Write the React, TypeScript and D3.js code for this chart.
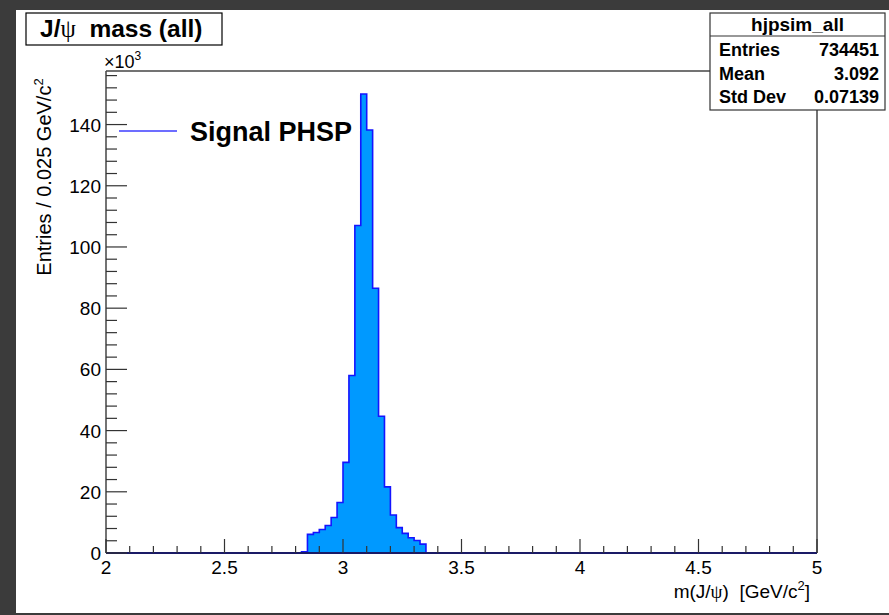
import React from "react";
import * as d3 from "d3";

const binWidth = 0.025;
const xMin = 2;
const xMax = 5;
const binLow = [2.825, 2.85, 2.875, 2.9, 2.925, 2.95, 2.975, 3.0, 3.025, 3.05, 3.075, 3.1, 3.125, 3.15, 3.175, 3.2, 3.225, 3.25, 3.275, 3.3, 3.325];
const binCounts = [400, 6100, 6700, 7700, 9000, 11600, 16500, 29600, 58000, 107000, 150000, 138200, 86500, 44700, 21600, 12400, 8300, 6400, 5000, 4100, 2900];
const xMajorTicks = [2, 2.5, 3, 3.5, 4, 4.5, 5];
const xTickLabels = ["2", "2.5", "3", "3.5", "4", "4.5", "5"];
const yMajorTicks = [0, 20000, 40000, 60000, 80000, 100000, 120000, 140000];
const yTickLabels = ["0", "20", "40", "60", "80", "100", "120", "140"];
const statsRows = [
  ["Entries", "734451"],
  ["Mean", "3.092"],
  ["Std Dev", "0.07139"],
];

export default function App() {
  const W = 889, H = 615;
  const left = 106, right = 817, top = 71, bottom = 553;
  const x = d3.scaleLinear().domain([xMin, xMax]).range([left, right]);
  const y = d3.scaleLinear().domain([0, 157500]).range([bottom, top]);

  // histogram step outline (envelope only)
  const pts: [number, number][] = [];
  pts.push([xMin, 0]);
  pts.push([binLow[0], 0]);
  binLow.forEach((b, i) => {
    pts.push([b, binCounts[i]]);
    pts.push([b + binWidth, binCounts[i]]);
  });
  pts.push([binLow[binLow.length - 1] + binWidth, 0]);
  pts.push([xMax, 0]);
  const line = d3.line<[number, number]>().x(d => x(d[0])).y(d => y(d[1]));
  const pathD = line(pts) || "";

  const xMinor = d3.range(0, 31).map(i => xMin + i * 0.1).filter(v => !xMajorTicks.some(m => Math.abs(m - v) < 1e-6));
  const yMinor = d3.range(0, 40).map(i => i * 4000).filter(v => v <= 157500 && v % 20000 !== 0);

  const font = "'Liberation Sans', Arial, Helvetica, sans-serif";
  const serif = "'Liberation Serif', 'DejaVu Serif', serif";

  return (
    <svg width={W} height={H} style={{ position: "absolute", left: 0, top: 0 }} fontFamily={font}>
      <rect x={0} y={0} width={W} height={H} fill="#3b3b3b" />
      <rect x={16} y={10} width={W - 16} height={603} fill="#ffffff" />

      {/* histogram */}
      <path d={pathD} fill="#0099ff" stroke="#1414ff" strokeWidth={1.6} strokeLinejoin="miter" />

      {/* frame */}
      <line x1={left} y1={top} x2={right} y2={top} stroke="#444" strokeWidth={1.5} />
      <line x1={left} y1={top} x2={left} y2={bottom} stroke="#444" strokeWidth={1.5} />
      <line x1={right} y1={top} x2={right} y2={bottom} stroke="#444" strokeWidth={1.5} />
      <line x1={left} y1={bottom} x2={right} y2={bottom} stroke="#1a1a66" strokeWidth={2} />

      {/* x ticks */}
      {xMajorTicks.map(v => (
        <line key={"xm" + v} x1={x(v)} x2={x(v)} y1={bottom} y2={bottom - 14} stroke="#333" strokeWidth={1.2} />
      ))}
      {xMinor.map(v => (
        <line key={"xn" + v} x1={x(v)} x2={x(v)} y1={bottom} y2={bottom - 7} stroke="#333" strokeWidth={1.2} />
      ))}
      {xMajorTicks.map((v, i) => (
        <text key={"xl" + v} x={x(v)} y={574} fontSize={19} textAnchor="middle" fill="#000">{xTickLabels[i]}</text>
      ))}

      {/* y ticks */}
      {yMajorTicks.map(v => (
        <line key={"ym" + v} x1={left} x2={left + 21} y1={y(v)} y2={y(v)} stroke="#333" strokeWidth={1.2} />
      ))}
      {yMinor.map(v => (
        <line key={"yn" + v} x1={left} x2={left + 11} y1={y(v)} y2={y(v)} stroke="#333" strokeWidth={1.2} />
      ))}
      {yMajorTicks.map((v, i) => (
        <text key={"yl" + v} x={101} y={y(v) + 7} fontSize={19} textAnchor="end" fill="#000">{yTickLabels[i]}</text>
      ))}
      <text x={104} y={68} fontSize={18} fill="#000">×10<tspan dy={-8} fontSize={12}>3</tspan></text>

      {/* axis titles */}
      <text transform="translate(51,177) rotate(-90)" fontSize={20} textAnchor="middle" fill="#000">
        Entries / 0.025 GeV/c<tspan dy={-8} fontSize={13}>2</tspan>
      </text>
      <text x={810} y={598} fontSize={19} textAnchor="end" fill="#000" xmlSpace="preserve">
        m(J/<tspan fontFamily={serif}>ψ</tspan>)  [GeV/c<tspan dy={-8} fontSize={13}>2</tspan><tspan dy={8}>]</tspan>
      </text>

      {/* title box */}
      <rect x={26} y={13} width={196} height={32} fill="#fff" stroke="#000" strokeWidth={1.2} />
      <text x={40} y={37} fontSize={24.5} fontWeight="bold" fill="#000" xmlSpace="preserve">
        J/<tspan fontWeight="normal" fontFamily={serif}>ψ</tspan>  mass (all)
      </text>

      {/* legend */}
      <line x1={119} x2={177} y1={131} y2={131} stroke="#3c3cff" strokeWidth={1.5} />
      <text x={190} y={141} fontSize={27} fontWeight="bold" fill="#000">Signal PHSP</text>

      {/* stats box */}
      <rect x={710} y={13} width={175} height={97} fill="#fff" stroke="#333" strokeWidth={1.2} />
      <line x1={710} x2={885} y1={36} y2={36} stroke="#333" strokeWidth={1.2} />
      <text x={797.5} y={31} fontSize={19} fontWeight="bold" textAnchor="middle" fill="#000">hjpsim_all</text>
      {statsRows.map((r, i) => (
        <g key={r[0]}>
          <text x={719} y={56 + i * 23.5} fontSize={18} fontWeight="bold" fill="#000">{r[0]}</text>
          <text x={879} y={56 + i * 23.5} fontSize={18} fontWeight="bold" textAnchor="end" fill="#000">{r[1]}</text>
        </g>
      ))}
    </svg>
  );
}
